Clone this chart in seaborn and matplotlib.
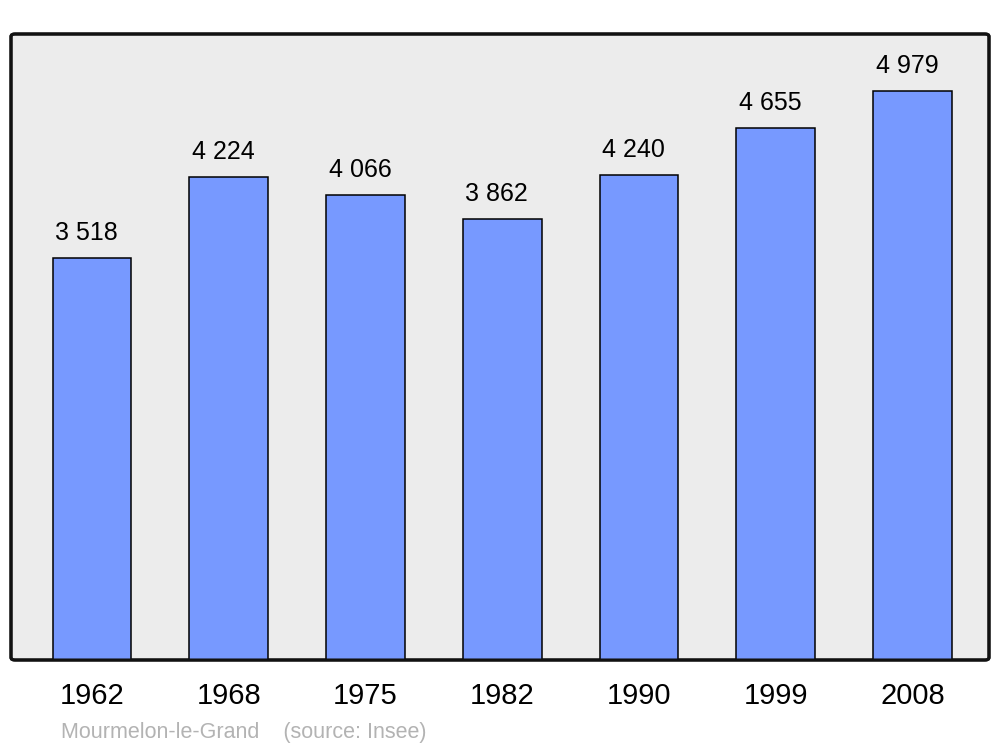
import matplotlib
matplotlib.use("Agg")
import matplotlib.pyplot as plt
import seaborn as sns
import pandas as pd
from matplotlib.patches import FancyBboxPatch

years = ["1962", "1968", "1975", "1982", "1990", "1999", "2008"]
population = [3518, 4224, 4066, 3862, 4240, 4655, 4979]
value_labels = ["3 518", "4 224", "4 066", "3 862", "4 240", "4 655", "4 979"]
commune = "Mourmelon-le-Grand"
source = "(source: Insee)"

sns.set_style("white")
plt.rcParams["font.family"] = ["Liberation Sans", "DejaVu Sans"]

df = pd.DataFrame({"year": years, "pop": population})

fig = plt.figure(figsize=(10, 7.47), dpi=100)
ax = fig.add_axes([0.011, 87 / 747, 0.978, 626 / 747])
ax.set_facecolor("none")

# rounded grey panel behind the bars
panel = FancyBboxPatch((0, 0), 1, 1, boxstyle="round,pad=0,rounding_size=0.004",
                       transform=ax.transAxes, facecolor="#ececec",
                       edgecolor="#111111", linewidth=2.2, zorder=0,
                       clip_on=False)
ax.add_patch(panel)

sns.barplot(data=df, x="year", y="pop", color="#7799ff", saturation=1,
            width=0.575, edgecolor="black", linewidth=1.1, ax=ax, zorder=2)

# redraw border on top so bar bottoms sit on it
border = FancyBboxPatch((0, 0), 1, 1, boxstyle="round,pad=0,rounding_size=0.004",
                        transform=ax.transAxes, facecolor="none",
                        edgecolor="#111111", linewidth=2.2, zorder=3,
                        clip_on=False)
ax.add_patch(border)

for i, (v, lab) in enumerate(zip(population, value_labels)):
    ax.annotate(lab, (i, v), xytext=(-4, 13), textcoords="offset points",
                ha="center", va="baseline", fontsize=18, color="black")

ax.set_xlim(-0.593, 6.56)
ax.set_ylim(0, max(population) * 1.1)
ax.set_yticks([])
ax.set_xlabel("")
ax.set_ylabel("")
ax.tick_params(axis="x", length=0, pad=16, labelsize=21, colors="black")
for s in ax.spines.values():
    s.set_visible(False)

fig.text(0.061, 1 - 738 / 747, commune + "    " + source, fontsize=15.5,
         color="#b3b3b3", ha="left", va="baseline")

fig.savefig("out.png", dpi=100, facecolor="white")
